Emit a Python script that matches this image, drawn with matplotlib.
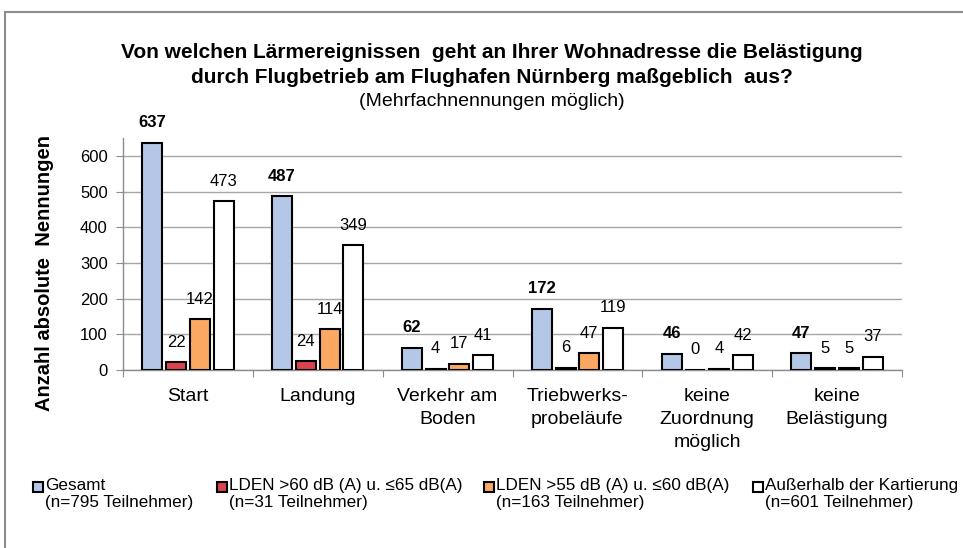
import matplotlib
matplotlib.use("Agg")
import matplotlib.pyplot as plt
from matplotlib.patches import Rectangle
import numpy as np

plt.rcParams['font.family'] = ['Liberation Sans', 'DejaVu Sans']

kategorien = ['Start', 'Landung', 'Verkehr am\nBoden', 'Triebwerks-\nprobeläufe',
              'keine\nZuordnung\nmöglich', 'keine\nBelästigung']
gesamt = [637, 487, 62, 172, 46, 47]
lden_60_65 = [22, 24, 4, 6, 0, 5]
lden_55_60 = [142, 114, 17, 47, 4, 5]
ausserhalb = [473, 349, 41, 119, 42, 37]

serien_namen = ['Gesamt\n(n=795 Teilnehmer)',
                'LDEN >60 dB (A) u. ≤65 dB(A)\n(n=31 Teilnehmer)',
                'LDEN >55 dB (A) u. ≤60 dB(A)\n(n=163 Teilnehmer)',
                'Außerhalb der Kartierung\n(n=601 Teilnehmer)']
farben = ['#B4C7E7', '#D9434F', '#FAA862', '#FFFFFF']

W, H = 963, 548
fig = plt.figure(figsize=(W / 100, H / 100), dpi=100)

# outer frame (cut off at right and bottom like the screenshot)
fig.patches.append(Rectangle((5 / W, -0.05), 1.1, 1 - 12 / H + 0.05,
                             transform=fig.transFigure, fill=False,
                             edgecolor='#8C8C8C', linewidth=1.5))

ax = fig.add_axes([123 / W, (H - 370) / H, 779 / W, 232 / H])

x = np.arange(len(kategorien))
schritt = 0.183
breite = 0.154
alle = [gesamt, lden_60_65, lden_55_60, ausserhalb]
for i, (werte, farbe) in enumerate(zip(alle, farben)):
    pos = x + (i - 1.5) * schritt
    bars = ax.bar(pos, werte, breite, color=farbe, edgecolor='black',
                  linewidth=1.5, zorder=3)
    for b, v in zip(bars, werte):
        ax.annotate(str(v), (b.get_x() + b.get_width() / 2, v),
                    xytext=(0, 9), textcoords='offset points',
                    ha='center', va='bottom', fontsize=12,
                    fontweight='bold' if i == 0 else 'normal')

ax.set_xlim(-0.5, len(kategorien) - 0.5)
ax.set_ylim(0, 650)
ax.set_yticks(range(0, 700, 100))
ax.yaxis.grid(True, color='#A6A6A6', linewidth=1, zorder=0)
ax.set_axisbelow(True)

ax.set_xticks(np.arange(-0.5, len(kategorien)), labels=[''] * (len(kategorien) + 1))
ax.set_xticks(x, labels=kategorien, minor=True)
ax.tick_params(axis='x', which='major', length=5, color='#8C8C8C', direction='out')
ax.tick_params(axis='x', which='minor', length=0, pad=13, labelsize=14)
ax.tick_params(axis='y', length=5, color='#8C8C8C', labelsize=12, pad=6)
for lbl in ax.get_xticklabels(minor=True):
    lbl.set_linespacing(1.45)

for s in ['top', 'right']:
    ax.spines[s].set_visible(False)
for s in ['left', 'bottom']:
    ax.spines[s].set_color('#8C8C8C')
    ax.spines[s].set_linewidth(1)

ax.set_ylabel('Anzahl absolute  Nennungen', fontsize=14.5, fontweight='bold')
ax.yaxis.set_label_coords(-0.089, 0.42)

fig.text(492 / W, 1 - 65 / H,
         'Von welchen Lärmereignissen  geht an Ihrer Wohnadresse die Belästigung\n'
         'durch Flugbetrieb am Flughafen Nürnberg maßgeblich  aus?',
         ha='center', va='center', fontsize=15, fontweight='bold', linespacing=1.35)
fig.text(492 / W, 1 - 101 / H, '(Mehrfachnennungen möglich)',
         ha='center', va='center', fontsize=14)

# legend drawn by hand so the marker sits on the first line
leg_x = [33, 217, 484, 753]
for lx, name, farbe in zip(leg_x, serien_namen, farben):
    fig.patches.append(Rectangle((lx / W, 1 - 492 / H), 10 / W, 10 / H,
                                 transform=fig.transFigure, facecolor=farbe,
                                 edgecolor='black', linewidth=1.5))
    fig.text((lx + 12) / W, 1 - 478 / H, name, ha='left', va='top',
             fontsize=12.3, linespacing=1.2)

fig.savefig('out.png', dpi=100)
